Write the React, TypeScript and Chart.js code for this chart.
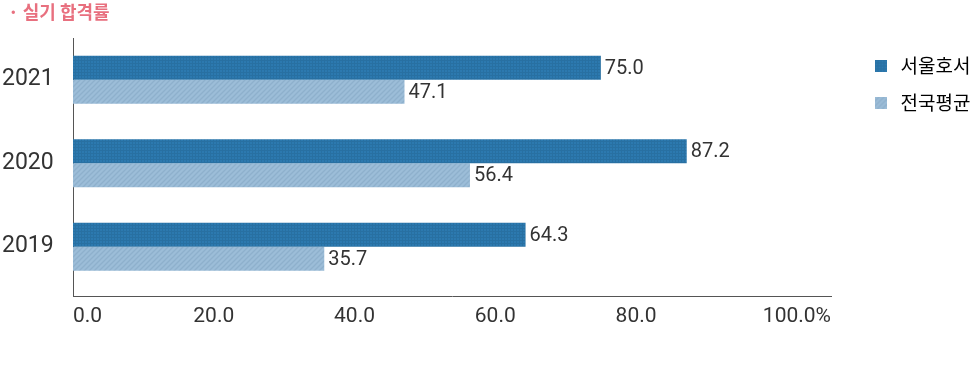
import React, { useEffect, useRef } from 'react';
import { Chart, registerables } from 'chart.js';

Chart.register(...registerables);

const titleText = '· 실기 합격률';
const years = ['2021', '2020', '2019'];
const seriesNames = ['서울호서', '전국평균'];
const seoulHoseo = [75.0, 87.2, 64.3];
const nationalAvg = [47.1, 56.4, 35.7];
const xTickValues = [0, 20, 40, 60, 80];
const xEndLabel = '100.0%';
const xMax = 107.7;

const CANVAS_W = 1000;
const LEGEND_LEFT = 852;

function makeDarkPattern(): CanvasPattern | string {
  const c = document.createElement('canvas');
  c.width = 3;
  c.height = 3;
  const g = c.getContext('2d');
  if (!g) return '#2b78ae';
  g.fillStyle = '#2c79af';
  g.fillRect(0, 0, 3, 3);
  g.fillStyle = 'rgba(0,0,0,0.07)';
  g.fillRect(0, 0, 3, 1);
  g.fillRect(0, 1, 1, 2);
  return g.createPattern(c, 'repeat') || '#2b78ae';
}

function makeLightPattern(): CanvasPattern | string {
  const c = document.createElement('canvas');
  c.width = 5;
  c.height = 5;
  const g = c.getContext('2d');
  if (!g) return '#97b9d5';
  g.fillStyle = '#9cbdd8';
  g.fillRect(0, 0, 5, 5);
  g.strokeStyle = '#8eb0cc';
  g.lineWidth = 1.3;
  g.beginPath();
  g.moveTo(0, 5);
  g.lineTo(5, 0);
  g.moveTo(-1, 1);
  g.lineTo(1, -1);
  g.moveTo(4, 6);
  g.lineTo(6, 4);
  g.stroke();
  return g.createPattern(c, 'repeat') || '#97b9d5';
}

function makeSwatch(fill: CanvasPattern | string): HTMLCanvasElement {
  const c = document.createElement('canvas');
  c.width = 12;
  c.height = 12;
  const g = c.getContext('2d');
  if (g) {
    g.fillStyle = fill as any;
    g.fillRect(0, 0, 12, 12);
  }
  return c;
}

const valueLabelPlugin = {
  id: 'valueLabels',
  afterDatasetsDraw(chart: any) {
    const ctx = chart.ctx;
    ctx.save();
    ctx.font = '20px Roboto';
    ctx.fillStyle = '#333333';
    ctx.textAlign = 'left';
    ctx.textBaseline = 'middle';
    chart.data.datasets.forEach((ds: any, di: number) => {
      const meta = chart.getDatasetMeta(di);
      meta.data.forEach((bar: any, i: number) => {
        const v = ds.data[i].x;
        ctx.fillText(Number(v).toFixed(1), bar.x + 4, bar.y + 1);
      });
    });
    ctx.restore();
  },
};

export default function App() {
  const ref = useRef<HTMLCanvasElement | null>(null);

  useEffect(() => {
    if (!ref.current) return;
    const dark = makeDarkPattern();
    const light = makeLightPattern();
    const swatches = [makeSwatch(dark), makeSwatch(light)];

    const chart = new Chart(ref.current, {
      type: 'bar',
      data: {
        datasets: [
          {
            label: seriesNames[0],
            data: seoulHoseo.map((v, i) => ({ x: v, y: i })),
            backgroundColor: dark as any,
            borderWidth: 0,
          },
          {
            label: seriesNames[1],
            data: nationalAvg.map((v, i) => ({ x: v, y: i })),
            backgroundColor: light as any,
            borderWidth: 0,
          },
        ],
      },
      plugins: [valueLabelPlugin],
      options: {
        indexAxis: 'y',
        responsive: false,
        animation: false,
        devicePixelRatio: 1,
        events: [],
        datasets: {
          bar: { categoryPercentage: 0.575, barPercentage: 1.0 },
        },
        layout: { padding: { left: 8, right: 20, top: 0, bottom: 0 } },
        font: { family: 'Roboto' },
        color: '#333333',
        scales: {
          x: {
            type: 'linear',
            position: 'bottom',
            min: 0,
            max: xMax,
            grid: { display: false, drawTicks: false },
            border: { display: true, color: '#555555', width: 1 },
            ticks: {
              autoSkip: false,
              maxRotation: 0,
              align: 'inner',
              padding: 8,
              color: '#333333',
              font: { family: 'Roboto', size: 21 },
              callback: (v: any) => (v === xMax ? xEndLabel : Number(v).toFixed(1)),
            },
            afterBuildTicks: (s: any) => {
              s.ticks = [...xTickValues, xMax].map((v) => ({ value: v }));
            },
            afterFit: (s: any) => {
              s.height = 83;
            },
          },
          y: {
            type: 'linear',
            position: 'left',
            reverse: true,
            offset: false,
            min: -0.5,
            max: 2.59,
            grid: { display: false, drawTicks: false, offset: false },
            border: { display: true, color: '#555555', width: 1 },
            ticks: {
              autoSkip: false,
              mirror: true,
              padding: -71,
              color: '#333333',
              font: { family: 'Roboto', size: 23 },
              callback: (v: any) => years[v] ?? '',
            },
            afterBuildTicks: (s: any) => {
              s.ticks = years.map((_, i) => ({ value: i }));
            },
            afterFit: (s: any) => {
              s.width = 65;
            },
          },
          gap: {
            type: 'linear',
            position: 'right',
            display: true,
            offset: false,
            grid: { display: false, drawTicks: false },
            border: { display: false },
            ticks: { display: false },
            afterFit: (s: any) => {
              s.width = 21;
            },
          },
        },
        plugins: {
          tooltip: { enabled: false },
          title: {
            display: true,
            text: titleText,
            align: 'start',
            color: '#e8707f',
            font: { family: '"Noto Sans CJK KR"', size: 18, weight: 'bold' },
            padding: { top: 1, bottom: 15.4 },
          },
          legend: {
            display: true,
            position: 'right',
            align: 'start',
            fullSize: false,
            labels: {
              usePointStyle: true,
              pointStyleWidth: 21,
              boxHeight: 12,
              padding: 18,
              color: '#333333',
              font: { family: '"Noto Sans CJK KR"', size: 19 },
              generateLabels: (c: any) =>
                c.data.datasets.map((ds: any, i: number) => ({
                  text: ds.label,
                  fillStyle: ds.backgroundColor,
                  strokeStyle: 'rgba(0,0,0,0)',
                  lineWidth: 0,
                  pointStyle: swatches[i],
                  hidden: false,
                  datasetIndex: i,
                })),
            },
          },
        },
      } as any,
    });

    const lg: any = (chart as any).legend;
    if (lg) {
      const dx = lg.left - LEGEND_LEFT;
      if (Math.abs(dx) > 0.25) {
        (chart.options as any).layout.padding.right += dx;
        chart.update();
      }
    }
    return () => chart.destroy();
  }, []);

  return (
    <div
      style={{
        position: 'absolute',
        left: 0,
        top: 0,
        width: 970,
        height: 379,
        overflow: 'hidden',
        background: '#ffffff',
      }}
    >
      <canvas
        ref={ref}
        width={CANVAS_W}
        height={379}
        style={{ display: 'block', width: CANVAS_W, height: 379 }}
      />
    </div>
  );
}
